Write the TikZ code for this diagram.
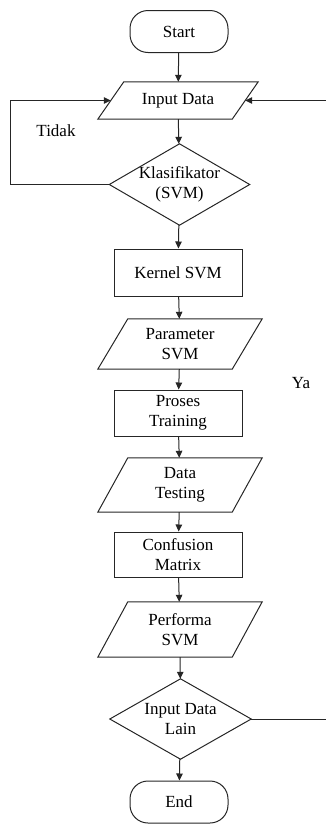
\documentclass[tikz,border=0pt]{standalone}
\usepackage{fontspec}
\newfontfamily\flowfont{Liberation Serif}
\usetikzlibrary{calc,arrows.meta}

% parallelogram outline around a (frameless) node: #1 name, #2 horizontal slant
\newcommand{\ioshape}[2]{%
  \draw[line] ($(#1.south west)+(-#2/2,0)$) -- ($(#1.south east)+(-#2/2,0)$)
    -- ($(#1.north east)+(#2/2,0)$) -- ($(#1.north west)+(#2/2,0)$) -- cycle;}
% diamond outline through the side midpoints of a (frameless) node
\newcommand{\decshape}[1]{%
  \draw[line] (#1.north) -- (#1.east) -- (#1.south) -- (#1.west) -- cycle;}

\begin{document}
\begin{tikzpicture}[x=1pt,y=-1pt,
  line/.style={line width=1pt,draw=black!85},
  arr/.style={line, -{Triangle[length=7pt,width=6.5pt]}},
  txt/.style={font=\flowfont\fontsize{17}{20}\selectfont, align=center, inner sep=0pt},
  term/.style={txt, line, rectangle, rounded corners=18pt, minimum width=98pt, minimum height=42pt},
  proc/.style={txt, line, rectangle, minimum width=128pt, minimum height=46pt},
  io/.style={txt, minimum width=134pt},
  decision/.style={txt, minimum width=140pt, minimum height=81pt}]

\useasboundingbox (0,0) rectangle (326,825);
\clip (0,0) rectangle (326,825);

% flow steps
\node[term] (start) at (179,31.5) {Start};
\node[io, minimum height=37pt] (indata) at (178,100.5) {Input Data};
\node[decision] (klas) at (179.5,184.5) {Klasifikator\\(SVM)};
\node[proc, minimum height=47pt] (kernel) at (178,272.5) {Kernel SVM};
\node[io, minimum height=50pt] (param) at (180,344) {Parameter\\SVM};
\node[proc] (proses) at (178,413) {Proses\\Training};
\node[io, minimum height=54pt] (dtest) at (180,485) {Data\\Testing};
\node[proc, minimum height=45pt] (conf) at (178,554.5) {Confusion\\Matrix};
\node[io, minimum height=55pt] (perf) at (180,629.5) {Performa\\SVM};
\node[decision, minimum width=141pt, minimum height=80pt] (lain) at (180.5,719) {Input Data\\Lain};
\node[term] (end) at (179,802) {End};

\ioshape{indata}{26}
\ioshape{param}{30}
\ioshape{dtest}{30}
\ioshape{perf}{30}
\decshape{klas}
\decshape{lain}

% main column
\draw[arr] (start) -- (indata);
\draw[arr] (indata) -- (klas);
\draw[arr] (klas) -- (kernel);
\draw[arr] (kernel) -- (param);
\draw[arr] (param) -- (proses);
\draw[arr] (proses) -- (dtest);
\draw[arr] (dtest) -- (conf);
\draw[arr] (conf) -- (perf);
\draw[arr] (perf) -- (lain);
\draw[arr] (lain) -- (end);

% loops back to the input
\coordinate (lc) at (10,0);
\coordinate (rc) at (334,0);
\draw[arr] (klas.west) -- (klas.west -| lc) |- (indata.west);
\draw[arr] (lain.east) -- (lain.east -| rc) |- (indata.east);

\node[txt] (tidak) at (56,131) {Tidak};
\node[txt] (ya) at (301,383) {Ya};
\end{tikzpicture}
\end{document}
